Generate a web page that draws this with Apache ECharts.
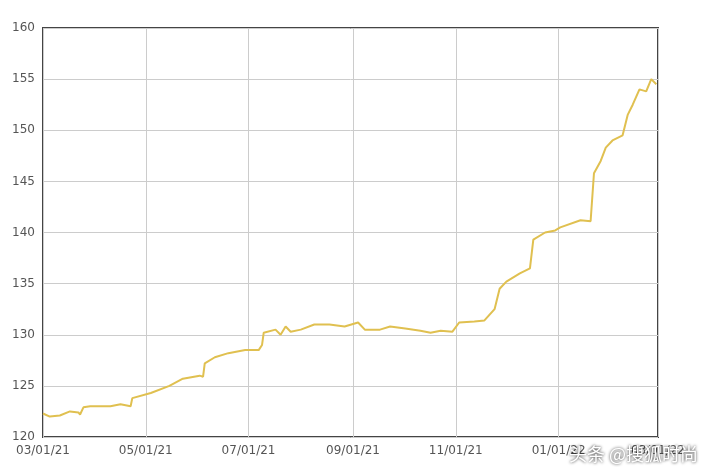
<!DOCTYPE html>
<html><head><meta charset="utf-8">
<script src="https://cdn.jsdelivr.net/npm/echarts@6/dist/echarts.min.js"></script>
<style>html,body{margin:0;padding:0;background:#fff}#c{width:712px;height:475px}</style>
</head><body><div id="c"></div>
<script>
const dates = ['2021-03-01','2021-03-05','2021-03-11','2021-03-17','2021-03-22','2021-03-23','2021-03-25','2021-03-29','2021-04-10','2021-04-16','2021-04-22','2021-04-23','2021-05-04','2021-05-15','2021-05-23','2021-06-02','2021-06-04','2021-06-05','2021-06-11','2021-06-19','2021-06-29','2021-07-07','2021-07-09','2021-07-10','2021-07-17','2021-07-20','2021-07-23','2021-07-26','2021-08-01','2021-08-09','2021-08-18','2021-08-27','2021-09-04','2021-09-08','2021-09-17','2021-09-23','2021-10-02','2021-10-11','2021-10-17','2021-10-23','2021-10-30','2021-11-03','2021-11-12','2021-11-18','2021-11-24','2021-11-27','2021-12-01','2021-12-09','2021-12-15','2021-12-17','2021-12-24','2021-12-30','2022-01-02','2022-01-14','2022-01-20','2022-01-22','2022-01-26','2022-01-29','2022-02-02','2022-02-08','2022-02-11','2022-02-14','2022-02-18','2022-02-22','2022-02-25','2022-02-28'];
const prices = [122.3,122.0,122.1,122.5,122.4,122.2,122.9,123.0,123.0,123.2,123.0,123.8,124.3,125.0,125.7,126.0,125.9,127.2,127.8,128.2,128.5,128.5,129.0,130.2,130.5,130.0,130.8,130.3,130.5,131.0,131.0,130.8,131.2,130.5,130.5,130.8,130.6,130.4,130.2,130.4,130.3,131.2,131.3,131.4,132.5,134.5,135.2,136.0,136.5,139.3,140.0,140.2,140.5,141.2,141.1,145.8,147.0,148.3,149.0,149.5,151.5,152.5,154.0,153.8,155.0,154.5];
const xTicks = ['2021-03-01','2021-05-01','2021-07-01','2021-09-01','2021-11-01','2022-01-01','2022-03-01'];
const ts = d => Date.UTC(+d.slice(0,4), +d.slice(5,7)-1, +d.slice(8,10));
const tickVals = xTicks.map(ts);
const chart = echarts.init(document.getElementById('c'));
const lbl = {color:'#555',fontSize:12,fontFamily:'DejaVu Sans'};
chart.setOption({
  animation:false,
  grid:{left:43,right:54,top:28,bottom:38,show:true,borderColor:'#444',borderWidth:2,backgroundColor:'#fff'},
  xAxis:{type:'value',min:tickVals[0],max:tickVals[tickVals.length-1],
    axisLine:{show:false},axisTick:{show:false,customValues:tickVals},
    axisLabel:{...lbl,customValues:tickVals,
      formatter:v=>{const d=new Date(v);return String(d.getUTCMonth()+1).padStart(2,'0')+'/'+String(d.getUTCDate()).padStart(2,'0')+'/'+String(d.getUTCFullYear()).slice(2);}},
    splitLine:{show:true,lineStyle:{color:'#ccc'}}},
  yAxis:{type:'value',min:120,max:160,interval:5,
    axisLine:{show:false},axisTick:{show:false},axisLabel:lbl,
    splitLine:{lineStyle:{color:'#ccc'}}},
  series:[{type:'line',data:dates.map((d,i)=>[ts(d),prices[i]]),
    showSymbol:false,lineStyle:{color:'#e0c050',width:2}}],
  graphic:[{type:'text',right:14,bottom:12,z:100,style:{text:'头条 @搜狐时尚',fill:'#fff',font:'18px "Noto Sans CJK SC"',textShadowColor:'rgba(0,0,0,0.9)',textShadowBlur:3}}]
});
</script></body></html>
